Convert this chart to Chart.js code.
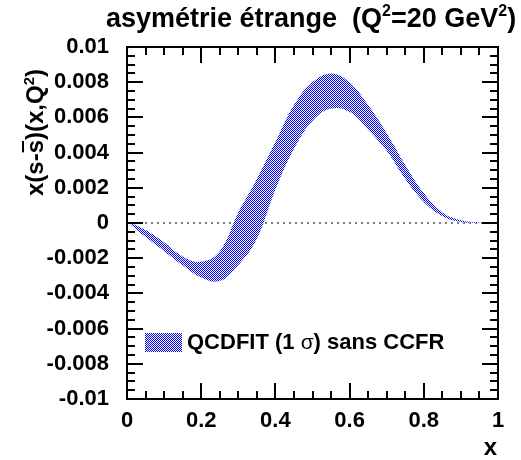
<!DOCTYPE html>
<html>
<head>
<meta charset="utf-8">
<script src="https://cdn.jsdelivr.net/npm/chart.js@4.4.1/dist/chart.umd.min.js"></script>
<style>
html, body { margin: 0; padding: 0; background: #fff; }
#wrap { position: relative; width: 521px; height: 460px; }
</style>
</head>
<body>
<div id="wrap"><canvas id="chart"></canvas></div>
<script>
// x(s - sbar) at Q2 = 20 GeV2, 1 sigma band
const xs    = [0.01, 0.05, 0.1, 0.15, 0.2, 0.25, 0.3, 0.35, 0.4, 0.45, 0.5, 0.55, 0.6, 0.65, 0.7, 0.75, 0.8, 0.85, 0.9, 0.95];
const upper = [0.0000, -0.0004, -0.0011, -0.0019, -0.0022, -0.0016, 0.0006, 0.0025, 0.0046, 0.0067, 0.0080, 0.0085, 0.0080, 0.0067, 0.0051, 0.0033, 0.0017, 0.0006, 0.00016, 0.00003];
const lower = [-0.0001, -0.0008, -0.0016, -0.0024, -0.0031, -0.0033, -0.0024, -0.0009, 0.0019, 0.0042, 0.0058, 0.0065, 0.0063, 0.0053, 0.0041, 0.0025, 0.0012, 0.0004, 0.00005, -0.00002];
const zeroX = [0, 1];

const xTicks = [0, 0.2, 0.4, 0.6, 0.8, 1];
const xTickLabels = ['0', '0.2', '0.4', '0.6', '0.8', '1'];
const yTicks = [-0.01, -0.008, -0.006, -0.004, -0.002, 0, 0.002, 0.004, 0.006, 0.008, 0.01];
const yTickLabels = ['-0.01', '-0.008', '-0.006', '-0.004', '-0.002', '0', '0.002', '0.004', '0.006', '0.008', '0.01'];

const FONT = '"Liberation Sans", Arial, Helvetica, sans-serif';

function checker() {
    const c = document.createElement('canvas');
    c.width = 2; c.height = 2;
    const g = c.getContext('2d');
    g.fillStyle = '#ffffff'; g.fillRect(0, 0, 2, 2);
    g.fillStyle = '#0000ff'; g.fillRect(0, 0, 1, 1); g.fillRect(1, 1, 1, 1);
    return g.createPattern(c, 'repeat');
}
const band = checker();

// draws pieces of text one after another (for superscripts etc)
function rich(ctx, parts, x, y) {
    let cx = x;
    parts.forEach(p => {
        ctx.font = p.font;
        ctx.fillText(p.t, cx, y + (p.dy || 0));
        const w = ctx.measureText(p.t).width;
        if (p.bar) {
            ctx.fillRect(cx + 1, y - p.bar, w - 2, 2);
        }
        cx += w;
    });
    return cx;
}

const decor = {
    id: 'decor',
    afterDraw(chart) {
        const { ctx, chartArea: a, scales: { x, y } } = chart;
        ctx.save();
        ctx.strokeStyle = '#000';
        ctx.fillStyle = '#000';
        ctx.lineWidth = 2;
        ctx.beginPath();
        // ROOT style ticks, inside the frame, on all four sides
        for (let i = 1; i < 20; i++) {
            const px = Math.round(x.getPixelForValue(i * 0.05));
            const len = i % 4 === 0 ? 16 : 8;
            ctx.moveTo(px, a.bottom); ctx.lineTo(px, a.bottom - len);
            ctx.moveTo(px, a.top); ctx.lineTo(px, a.top + len);
        }
        for (let i = 1; i < 40; i++) {
            const py = Math.round(y.getPixelForValue(-0.01 + i * 0.0005));
            const len = i % 4 === 0 ? 16 : 8;
            ctx.moveTo(a.left, py); ctx.lineTo(a.left + len, py);
            ctx.moveTo(a.right, py); ctx.lineTo(a.right - len, py);
        }
        ctx.stroke();
        ctx.strokeRect(a.left, a.top, a.right - a.left, a.bottom - a.top);

        ctx.textBaseline = 'alphabetic';
        ctx.textAlign = 'left';
        const B = s => 'bold ' + s + 'px ' + FONT;

        // title
        rich(ctx, [
            { t: 'asymétrie étrange  (Q', font: B(27) },
            { t: '2', font: B(16), dy: -11 },
            { t: '=20 GeV', font: B(27) },
            { t: '2', font: B(16), dy: -11 },
            { t: ')', font: B(27) }
        ], 106, 27);

        // y axis title, rotated
        ctx.save();
        ctx.translate(43, 196);
        ctx.rotate(-Math.PI / 2);
        rich(ctx, [
            { t: 'x(s-', font: B(24) },
            { t: 's', font: B(24), bar: 21 },
            { t: ')(x,Q', font: B(24) },
            { t: '2', font: B(15), dy: -9 },
            { t: ')', font: B(24) }
        ], 0, 0);
        ctx.restore();

        // x axis title
        ctx.textAlign = 'right';
        ctx.font = B(24);
        ctx.fillText('x', 497, 455);

        // legend
        ctx.textAlign = 'left';
        ctx.fillStyle = band;
        ctx.fillRect(145, 333, 37, 19);
        ctx.fillStyle = '#000';
        rich(ctx, [
            { t: 'QCDFIT (1 ', font: B(22) },
            { t: 'σ', font: '21px ' + FONT },
            { t: ') sans CCFR', font: B(22) }
        ], 187, 349);
        ctx.restore();
    }
};

new Chart(document.getElementById('chart'), {
    type: 'line',
    data: {
        datasets: [
            {
                label: 'QCDFIT (1 σ) sans CCFR',
                data: xs.map((v, i) => ({ x: v, y: upper[i] })),
                borderWidth: 0,
                borderColor: 'rgba(0,0,255,0)',
                backgroundColor: band,
                fill: '+1',
                pointRadius: 0,
                tension: 0.4,
                order: 1
            },
            {
                label: 'lower',
                data: xs.map((v, i) => ({ x: v, y: lower[i] })),
                borderWidth: 0,
                borderColor: 'rgba(0,0,255,0)',
                fill: false,
                pointRadius: 0,
                tension: 0.4,
                order: 2
            },
            {
                label: 'zero',
                data: zeroX.map(v => ({ x: v, y: 0 })),
                borderColor: '#000',
                borderWidth: 1,
                borderDash: [2, 4],
                pointRadius: 0,
                fill: false,
                order: 3
            }
        ]
    },
    options: {
        responsive: true,
        maintainAspectRatio: false,
        animation: false,
        layout: { padding: { top: 47, right: 23, left: 0, bottom: 0 } },
        plugins: {
            legend: { display: false },
            title: { display: false },
            tooltip: { enabled: false }
        },
        scales: {
            x: {
                type: 'linear',
                min: 0, max: 1,
                grid: { display: false },
                border: { display: false },
                afterBuildTicks: s => { s.ticks = xTicks.map(v => ({ value: v })); },
                afterFit: s => { s.height = 61; },
                ticks: {
                    color: '#000',
                    padding: 1,
                    maxRotation: 0,
                    font: { family: FONT, size: 22, weight: 'bold' },
                    callback: v => xTickLabels[xTicks.indexOf(v)]
                }
            },
            y: {
                min: -0.01, max: 0.01,
                grid: { display: false },
                border: { display: false },
                afterBuildTicks: s => { s.ticks = yTicks.map(v => ({ value: v })); },
                afterFit: s => { s.width = 127; },
                ticks: {
                    color: '#000',
                    padding: 10,
                    font: { family: FONT, size: 22, weight: 'bold' },
                    callback: v => yTickLabels[yTicks.indexOf(v)]
                }
            }
        }
    },
    plugins: [decor]
});
</script>
</body>
</html>
